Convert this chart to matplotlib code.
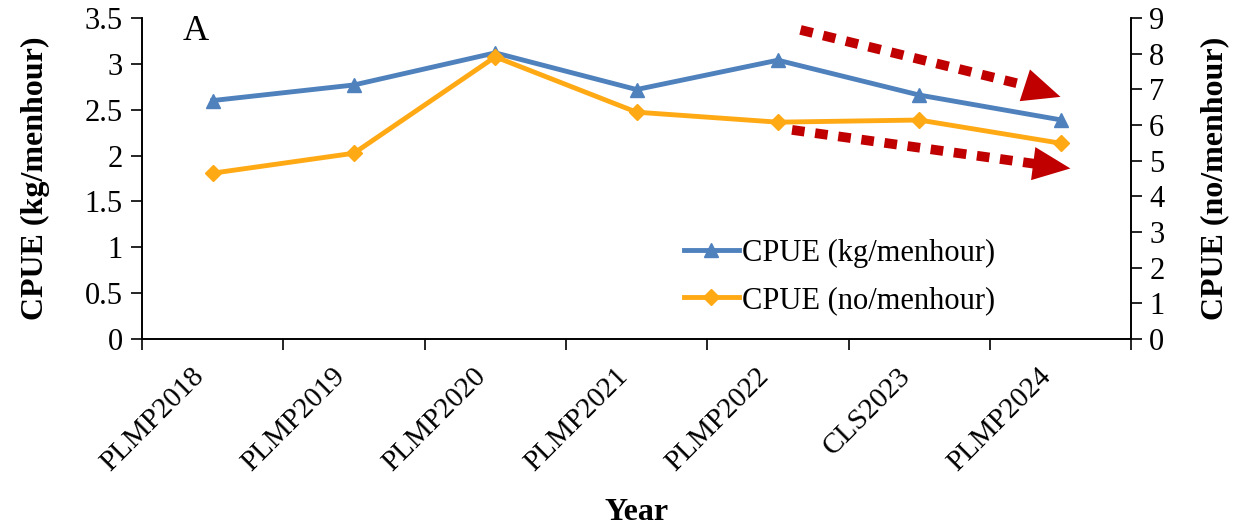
import matplotlib.pyplot as plt
from matplotlib.transforms import ScaledTranslation

# survey labels and CPUE values
years = ["PLMP2018", "PLMP2019", "PLMP2020", "PLMP2021", "PLMP2022", "CLS2023", "PLMP2024"]
cpue_kg = [2.60, 2.77, 3.12, 2.72, 3.04, 2.66, 2.39]
cpue_no = [4.65, 5.21, 7.91, 6.36, 6.08, 6.14, 5.49]

plt.rcParams["font.family"] = ["Liberation Serif", "DejaVu Serif"]
blue = "#4F81BD"
orange = "#FFA915"
red = "#C00000"

fig = plt.figure(figsize=(12.38, 5.29), dpi=100)
ax = fig.add_axes([0.1147, 0.359, 0.799, 0.607])
ax2 = ax.twinx()

x = list(range(len(years)))
l1, = ax.plot(x, cpue_kg, color=blue, lw=3.5, marker="^", ms=10, label="CPUE (kg/menhour)")
l2, = ax2.plot(x, cpue_no, color=orange, lw=3.5, marker="D", ms=8, label="CPUE (no/menhour)")

ax.set_xlim(-0.5, len(years) - 0.5)
ax.set_ylim(0, 3.5)
ax2.set_ylim(0, 9)
ax.set_yticks([0, 0.5, 1, 1.5, 2, 2.5, 3, 3.5])
ax.set_yticklabels(["0", "0.5", "1", "1.5", "2", "2.5", "3", "3.5"])
ax2.set_yticks(range(10))

# category ticks between groups, labels at the centres
ax.set_xticks([i - 0.5 for i in range(len(years) + 1)])
ax.set_xticklabels([])
ax.set_xticks(x, minor=True)
ax.set_xticklabels(years, minor=True, rotation=45, ha="right", va="top",
                   rotation_mode="anchor", fontsize=21)
ax.tick_params(axis="x", which="minor", length=0, pad=17)
ax.tick_params(axis="x", which="major", length=8, width=1.2)
ax.tick_params(axis="y", labelsize=22, length=8, width=1.2, pad=6)
ax2.tick_params(axis="y", labelsize=22, length=8, width=1.2, pad=5)
shift = ScaledTranslation(-16 / 72, 0, fig.dpi_scale_trans)
for lbl in ax.get_xticklabels(minor=True):
    lbl.set_transform(lbl.get_transform() + shift)

for a in (ax, ax2):
    a.spines["top"].set_visible(False)
    for s in ("left", "right", "bottom"):
        a.spines[s].set_linewidth(1.2)

ax.set_ylabel("CPUE (kg/menhour)", fontsize=23, fontweight="bold", labelpad=25)
ax2.set_ylabel("CPUE (no/menhour)", fontsize=23, fontweight="bold", labelpad=26)
ax.set_xlabel("Year", fontsize=23, fontweight="bold", labelpad=16)

ax.text(0.041, 1.01, "A", transform=ax.transAxes, fontsize=26, va="top", ha="left")

ax.legend([l1, l2], ["CPUE (kg/menhour)", "CPUE (no/menhour)"], frameon=False,
          fontsize=22, loc="upper left", bbox_to_anchor=(0.52, 0.397),
          handlelength=1.8, handletextpad=0.1, labelspacing=0.58)

# red dotted trend arrows
arrows = [((4.16, 3.37), (5.74, 2.77), (6.0, 2.64)),
          ((4.10, 2.28), (5.82, 1.91), (6.07, 1.86))]
for start, base, tip in arrows:
    ax.plot([start[0], base[0]], [start[1], base[1]], color=red, lw=7,
            dashes=(1.3, 1.1), solid_capstyle="butt", dash_capstyle="butt", zorder=5)
    ax.annotate("", xy=tip, xytext=base,
                arrowprops=dict(arrowstyle="-|>,head_length=1.35,head_width=0.6",
                                mutation_scale=20, lw=0, color=red, shrinkA=0, shrinkB=0),
                zorder=5)

fig.savefig("out.png", dpi=100)
